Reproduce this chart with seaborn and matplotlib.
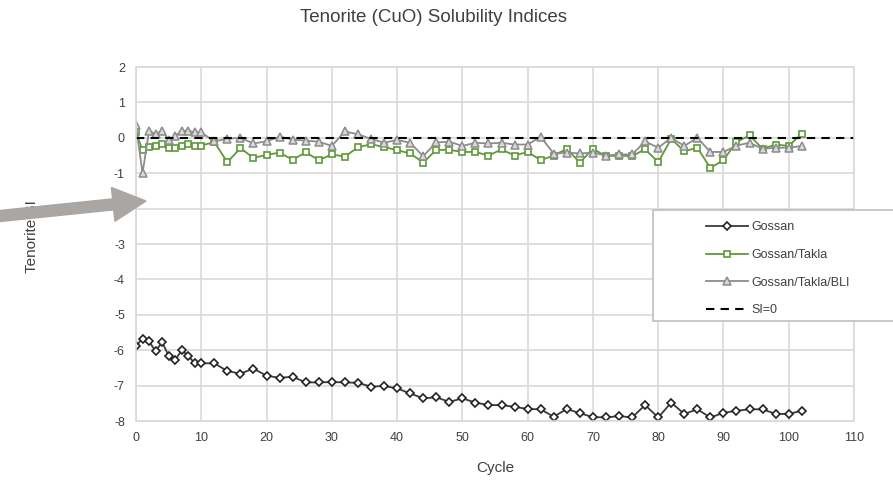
import matplotlib
matplotlib.use('Agg')
import matplotlib.pyplot as plt
import seaborn as sns
from matplotlib.patches import FancyArrow, Rectangle

# cycles (1 step up to 10, then every 2)
cycles = [0, 1, 2, 3, 4, 5, 6, 7, 8, 9, 10] + list(range(12, 104, 2))

gossan = [-5.88, -5.67, -5.75, -6.03, -5.77, -6.16, -6.28, -6.0, -6.16, -6.37, -6.37,
          -6.37, -6.59, -6.66, -6.52, -6.72, -6.78, -6.75, -6.91, -6.91, -6.9, -6.91,
          -6.92, -7.03, -7.01, -7.08, -7.22, -7.36, -7.33, -7.46, -7.36, -7.48, -7.55,
          -7.55, -7.6, -7.66, -7.67, -7.88, -7.66, -7.78, -7.89, -7.9, -7.86, -7.9,
          -7.55, -7.9, -7.48, -7.8, -7.67, -7.9, -7.77, -7.71, -7.67, -7.67, -7.8,
          -7.8, -7.71]

takla = [0.15, -0.35, -0.25, -0.22, -0.18, -0.28, -0.3, -0.22, -0.18, -0.22, -0.22,
         -0.12, -0.69, -0.29, -0.57, -0.48, -0.42, -0.62, -0.41, -0.63, -0.47, -0.53,
         -0.27, -0.18, -0.26, -0.35, -0.44, -0.7, -0.34, -0.34, -0.4, -0.4, -0.5,
         -0.33, -0.5, -0.4, -0.63, -0.5, -0.31, -0.7, -0.31, -0.52, -0.5, -0.52,
         -0.32, -0.69, -0.03, -0.38, -0.28, -0.85, -0.63, -0.12, 0.07, -0.31, -0.19,
         -0.23, 0.12]

bli = [0.35, -1.0, 0.2, 0.1, 0.2, -0.05, 0.05, 0.2, 0.2, 0.15, 0.15,
       -0.1, -0.03, 0.0, -0.16, -0.1, 0.03, -0.05, -0.08, -0.11, -0.23, 0.18,
       0.1, -0.03, -0.14, -0.06, -0.14, -0.52, -0.13, -0.11, -0.23, -0.14, -0.16,
       -0.14, -0.19, -0.19, 0.03, -0.45, -0.42, -0.44, -0.42, -0.5, -0.47, -0.47,
       -0.1, -0.28, 0.0, -0.23, 0.0, -0.4, -0.4, -0.22, -0.14, -0.31, -0.28,
       -0.28, -0.23]

font = ['Liberation Sans Narrow', 'Liberation Sans', 'DejaVu Sans']
plt.rcParams['font.family'] = font
plt.rcParams['axes.unicode_minus'] = False

fig = plt.figure(figsize=(8.93, 4.8), dpi=100)
ax = fig.add_axes([0.1523, 0.1229, 0.804, 0.7375])

sns.lineplot(x=cycles, y=gossan, ax=ax, color='#3a3a3a', lw=1.3, marker='D',
             markersize=4.3, markerfacecolor='white', markeredgecolor='#222222',
             markeredgewidth=1.2, label='Gossan', sort=False)
sns.lineplot(x=cycles, y=takla, ax=ax, color='#5e9a3a', lw=1.3, marker='s',
             markersize=4.8, markerfacecolor='white', markeredgecolor='#5e9a3a',
             markeredgewidth=1.2, label='Gossan/Takla', sort=False)
sns.lineplot(x=cycles, y=bli, ax=ax, color='#8c8c8c', lw=1.3, marker='^',
             markersize=5.8, markerfacecolor='#d9d9d9', markeredgecolor='#8c8c8c',
             markeredgewidth=1.1, label='Gossan/Takla/BLI', sort=False)
ax.axhline(0, color='black', ls=(0, (4, 3)), lw=1.5, label='SI=0')

ax.set_xlim(0, 110)
ax.set_ylim(-8, 2)
ax.set_xticks(range(0, 111, 10))
ax.set_yticks(range(-8, 3, 1))
ax.grid(True, color='#d9d9d9', lw=1.2)
ax.set_axisbelow(True)
for s in ax.spines.values():
    s.set_color('#d9d9d9')
    s.set_linewidth(1.2)
ax.tick_params(length=0, labelsize=9, colors='#404040', pad=8)

fig.text(434 / 893, 1 - 18 / 480, 'Tenorite (CuO) Solubility Indices', fontsize=13.5,
         color='#404040', ha='center', va='center')
ax.set_xlabel('Cycle', fontsize=11, color='#404040', labelpad=12)
ax.set_ylabel('Tenorite SI', fontsize=11, color='#404040')
ax.yaxis.set_label_coords(-0.135, 0.52)

# legend box
fig.add_artist(Rectangle((653 / 893, 1 - 321 / 480), 260 / 893, 111 / 480,
                         transform=fig.transFigure, facecolor='white',
                         edgecolor='#bfbfbf', lw=1.2, zorder=5))
leg = fig.legend(*ax.get_legend_handles_labels(), loc='upper left',
                 bbox_to_anchor=(700 / 893, 1 - 215 / 480), frameon=False,
                 fontsize=9, labelcolor='#404040', handlelength=3.3,
                 handletextpad=0.3, labelspacing=1.25, borderpad=0)
leg.set_zorder(6)
if ax.get_legend() is not None:
    ax.get_legend().remove()

# grey arrow annotation
fig.add_artist(FancyArrow(0, 2.64, 1.46, 0.15, width=0.11, head_width=0.34,
                          head_length=0.33, length_includes_head=True,
                          color='#aaa6a3', transform=fig.dpi_scale_trans, zorder=7))

fig.savefig('out.png', dpi=100)
